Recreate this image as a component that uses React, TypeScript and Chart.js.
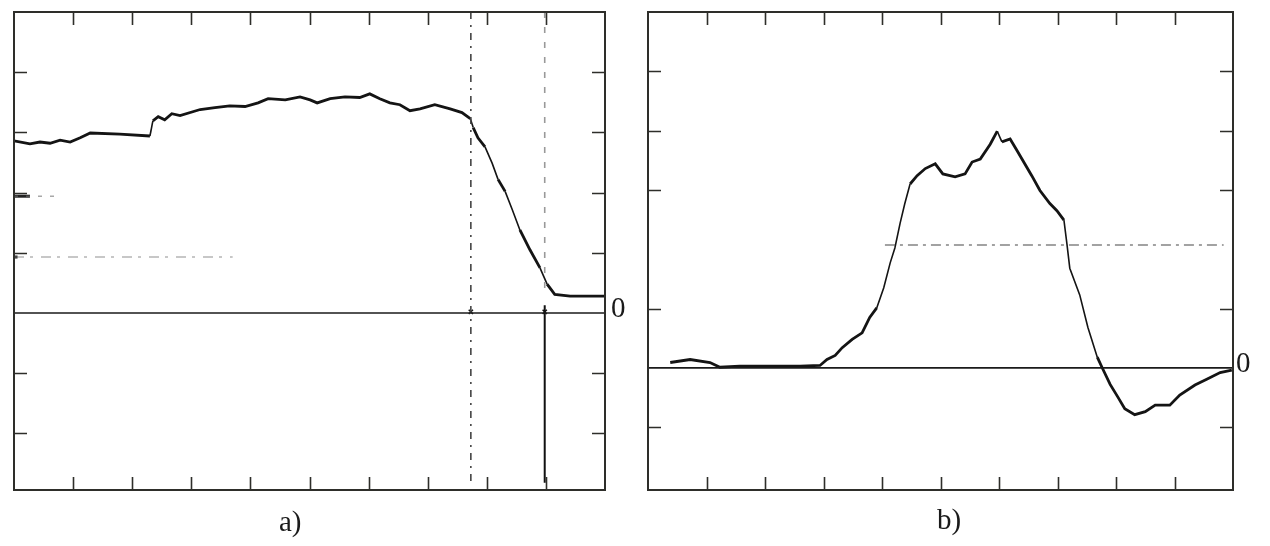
import React, { useEffect, useRef } from "react";
import { Chart, registerables } from "chart.js";

Chart.register(...registerables);

// ---------- Panel a) ----------
const aX = [0, 0.27, 0.44, 0.61, 0.78, 0.95, 1.12, 1.29, 1.79, 2.3, 2.35, 2.44, 2.55, 2.67, 2.81, 3.15, 3.4, 3.65, 3.91, 4.13, 4.3, 4.59, 4.84, 5.01, 5.13, 5.35, 5.6, 5.85, 6.02, 6.19, 6.36, 6.53, 6.7, 6.87, 7.12, 7.38, 7.58, 7.72, 7.77, 7.85, 7.97, 8.09, 8.19, 8.31, 8.43, 8.56, 8.73, 8.9, 9.02, 9.15, 9.41, 10];
const aY = [2.86, 2.81, 2.84, 2.82, 2.87, 2.84, 2.91, 2.99, 2.97, 2.94, 3.19, 3.26, 3.21, 3.31, 3.28, 3.38, 3.41, 3.44, 3.43, 3.49, 3.56, 3.54, 3.59, 3.54, 3.49, 3.56, 3.59, 3.58, 3.64, 3.56, 3.49, 3.46, 3.36, 3.39, 3.46, 3.39, 3.33, 3.23, 3.08, 2.91, 2.76, 2.49, 2.22, 2.02, 1.72, 1.38, 1.05, 0.75, 0.48, 0.31, 0.28, 0.28];
const aCursorX = [7.73, 8.98];
const aCursorTop = 5;
const aCursorBottom = [-2.86, -2.82];
const aCursor2SplitTop = 0.35;
const aCursor2SplitBottom = 0.13;
const aTraceLevels = [1.94, 0.93];
const aTraceEnds = [0.7, 3.7];
const aXTicks = [1, 2, 3, 4, 5, 6, 7, 8, 9];
const aYTicks = [4, 3, 2, 1, -1, -2];
const aYRange = [-2.94, 5];

// ---------- Panel b) ----------
const bX = [0.38, 0.72, 1.06, 1.23, 1.57, 2.26, 2.6, 2.94, 3.06, 3.2, 3.32, 3.49, 3.66, 3.79, 3.91, 4.03, 4.14, 4.22, 4.31, 4.39, 4.48, 4.6, 4.74, 4.91, 5.04, 5.25, 5.42, 5.54, 5.68, 5.85, 5.97, 6.05, 6.19, 6.31, 6.44, 6.56, 6.7, 6.87, 6.99, 7.11, 7.16, 7.21, 7.38, 7.52, 7.68, 7.76, 7.9, 8.03, 8.15, 8.32, 8.5, 8.67, 8.92, 9.09, 9.35, 9.56, 9.78, 9.98];
const bY = [0.09, 0.14, 0.09, 0.01, 0.03, 0.03, 0.03, 0.04, 0.14, 0.21, 0.34, 0.48, 0.59, 0.85, 1.01, 1.35, 1.77, 2.02, 2.44, 2.77, 3.1, 3.24, 3.36, 3.44, 3.27, 3.22, 3.27, 3.47, 3.52, 3.77, 3.99, 3.81, 3.86, 3.66, 3.44, 3.24, 2.99, 2.77, 2.65, 2.49, 2.1, 1.68, 1.23, 0.68, 0.18, 0.01, -0.28, -0.49, -0.69, -0.79, -0.74, -0.63, -0.63, -0.46, -0.29, -0.19, -0.08, -0.04];
const bRefLevel = 2.07;
const bRefRange = [4.05, 9.84];
const bXTicks = [1, 2, 3, 4, 5, 6, 7, 8, 9];
const bYTicks = [5, 4, 3, 1, -1];
const bYRange = [-2.06, 6];

const xRange = [0, 10];

function framePlugin(xTicks: number[], yTicks: number[]) {
  return {
    id: "frameTicks",
    afterDatasetsDraw(chart: any) {
      const { ctx, chartArea } = chart;
      const { left, right, top, bottom } = chartArea;
      const xs = chart.scales.x;
      const ys = chart.scales.y;
      const len = 13;
      ctx.save();
      ctx.strokeStyle = "#2e2e2a";
      ctx.lineWidth = 1.6;
      ctx.beginPath();
      xTicks.forEach((v) => {
        const px = Math.round(xs.getPixelForValue(v)) + 0.5;
        ctx.moveTo(px, top);
        ctx.lineTo(px, top + len);
        ctx.moveTo(px, bottom);
        ctx.lineTo(px, bottom - len);
      });
      yTicks.forEach((v) => {
        const py = Math.round(ys.getPixelForValue(v)) + 0.5;
        ctx.moveTo(left, py);
        ctx.lineTo(left + len, py);
        ctx.moveTo(right, py);
        ctx.lineTo(right - len, py);
      });
      ctx.stroke();
      ctx.lineWidth = 2;
      ctx.strokeRect(left, top, right - left, bottom - top);
      ctx.restore();
    },
  };
}

const pts = (xs: number[], ys: number[]) => xs.map((x, i) => ({ x, y: ys[i] }));

const steepWidth = (ctx: any) => {
  const dx = ctx.p1.parsed.x - ctx.p0.parsed.x;
  const dy = ctx.p1.parsed.y - ctx.p0.parsed.y;
  return Math.abs(dy / (dx || 0.001)) > 2.2 ? 1.6 : 2.8;
};

function line(data: any[], color: string, width: number, dash: number[] = [], extra: any = {}) {
  return {
    data,
    showLine: true,
    borderColor: color,
    borderWidth: width,
    borderDash: dash,
    pointRadius: 0,
    tension: 0,
    fill: false,
    ...extra,
  };
}

function baseOptions(yRange: number[], padding: any) {
  return {
    responsive: false,
    animation: false as const,
    events: [] as any[],
    layout: { padding },
    plugins: { legend: { display: false }, tooltip: { enabled: false } },
    scales: {
      x: { type: "linear" as const, min: xRange[0], max: xRange[1], display: false },
      y: { type: "linear" as const, min: yRange[0], max: yRange[1], display: false },
    },
  };
}

function PanelA() {
  const ref = useRef<HTMLCanvasElement>(null);
  useEffect(() => {
    const datasets = [
      line([{ x: 0, y: aTraceLevels[1] }, { x: aTraceEnds[1], y: aTraceLevels[1] }], "rgba(120,120,120,0.55)", 1.5, [10, 6, 3, 8]),
      line([{ x: 0, y: aTraceLevels[0] }, { x: aTraceEnds[0], y: aTraceLevels[0] }], "rgba(110,110,110,0.6)", 1.5, [4, 8]),
      line([{ x: 0, y: aTraceLevels[0] }, { x: 0.27, y: aTraceLevels[0] }], "#222", 3),
      line([{ x: 0, y: aTraceLevels[1] }, { x: 0.06, y: aTraceLevels[1] }], "#222", 3),
      line([{ x: xRange[0], y: 0 }, { x: xRange[1], y: 0 }], "#1a1a1a", 1.6),
      line([{ x: aCursorX[0], y: aCursorTop }, { x: aCursorX[0], y: aCursorBottom[0] }], "#444", 1.6, [7, 6, 2, 6]),
      line([{ x: aCursorX[1], y: aCursorTop }, { x: aCursorX[1], y: aCursor2SplitTop }], "#999", 1.6, [6, 9]),
      line([{ x: aCursorX[1], y: aCursor2SplitBottom }, { x: aCursorX[1], y: aCursorBottom[1] }], "#111", 2),
      {
        data: aCursorX.map((x) => ({ x, y: 0.02 })),
        showLine: false,
        pointStyle: "crossRot",
        pointRadius: 3,
        borderColor: "#111",
        borderWidth: 1.5,
      },
      line(pts(aX, aY), "#141414", 2.8, [], { segment: { borderWidth: steepWidth } }),
    ];
    const chart = new Chart(ref.current!, {
      type: "scatter",
      data: { datasets },
      options: baseOptions(aYRange, { left: 14, top: 12, right: 25, bottom: 56 }) as any,
      plugins: [framePlugin(aXTicks, aYTicks)],
    });
    return () => chart.destroy();
  }, []);
  return (
    <canvas
      ref={ref}
      width={630}
      height={546}
      style={{ position: "absolute", left: 0, top: 0, width: 630, height: 546 }}
    />
  );
}

function PanelB() {
  const ref = useRef<HTMLCanvasElement>(null);
  useEffect(() => {
    const datasets = [
      line([{ x: bRefRange[0], y: bRefLevel }, { x: bRefRange[1], y: bRefLevel }], "rgba(90,90,90,0.75)", 1.6, [10, 5, 3, 5]),
      line([{ x: xRange[0], y: 0 }, { x: xRange[1], y: 0 }], "#1a1a1a", 1.6),
      line(pts(bX, bY), "#141414", 2.8, [], { segment: { borderWidth: steepWidth } }),
    ];
    const chart = new Chart(ref.current!, {
      type: "scatter",
      data: { datasets },
      options: baseOptions(bYRange, { left: 14, top: 12, right: 37, bottom: 56 }) as any,
      plugins: [framePlugin(bXTicks, bYTicks)],
    });
    return () => chart.destroy();
  }, []);
  return (
    <canvas
      ref={ref}
      width={636}
      height={546}
      style={{ position: "absolute", left: 634, top: 0, width: 636, height: 546 }}
    />
  );
}

const labelStyle: React.CSSProperties = {
  position: "absolute",
  fontFamily: "'Liberation Serif', 'Times New Roman', serif",
  fontSize: 29,
  lineHeight: "29px",
  color: "#1a1a1a",
  whiteSpace: "nowrap",
};

export default function App() {
  return (
    <div
      style={{
        position: "fixed",
        left: 0,
        top: 0,
        width: 1270,
        height: 546,
        background: "#ffffff",
        overflow: "hidden",
      }}
    >
      <PanelA />
      <PanelB />
      <div style={{ ...labelStyle, left: 611, top: 293 }}>0</div>
      <div style={{ ...labelStyle, left: 1236, top: 348 }}>0</div>
      <div style={{ ...labelStyle, left: 279, top: 507 }}>a)</div>
      <div style={{ ...labelStyle, left: 937, top: 505 }}>b)</div>
    </div>
  );
}
